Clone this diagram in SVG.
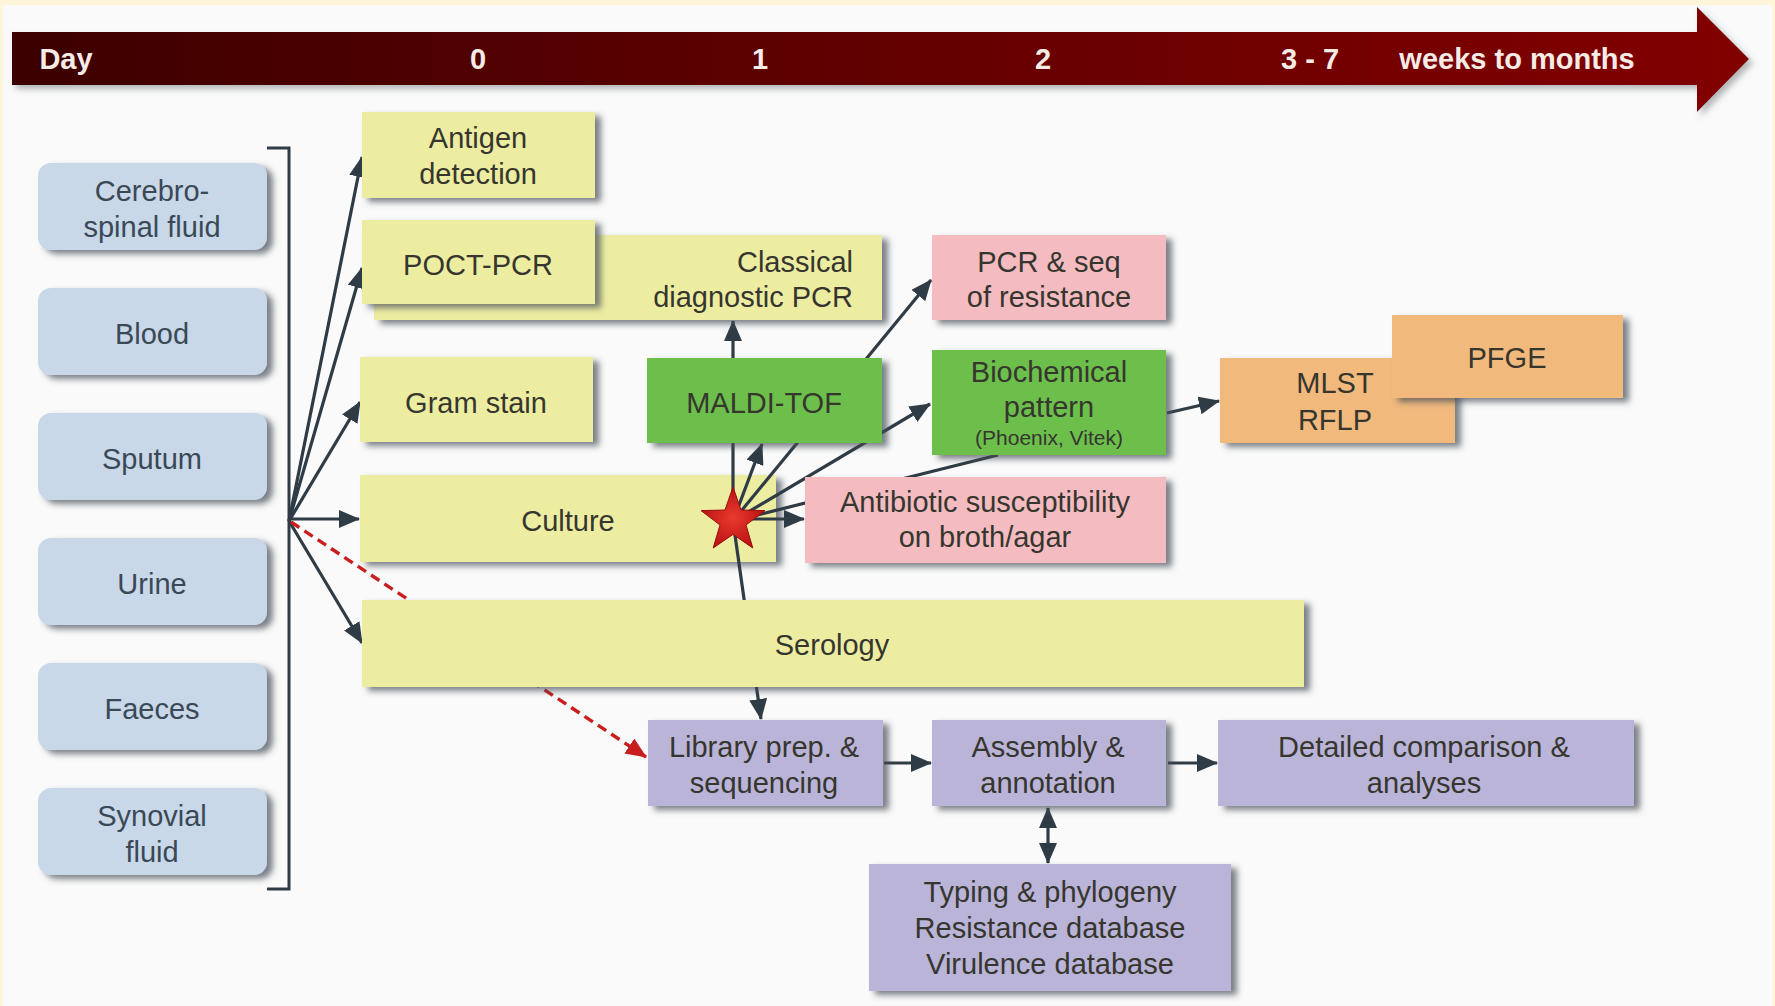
<svg xmlns="http://www.w3.org/2000/svg" width="1775" height="1006" viewBox="0 0 1775 1006">
  <style>
    .lbl { font-family: "Liberation Sans", Arial, sans-serif; font-size: 29px; fill: #36362f; text-anchor: middle; }
    .spec { fill: #3b4856; }
    .small { font-size: 21px; }
    .day { font-family: "Liberation Sans", Arial, sans-serif; font-size: 29px; font-weight: bold; fill: #f6ebe5; text-anchor: middle; }
    .blue { fill: #c8d8e8; }
    .yellow { fill: #ededa2; }
    .green { fill: #6cbf4c; }
    .pink { fill: #f4bcc0; }
    .orange { fill: #f2b97d; }
    .purple { fill: #bab4d8; }
    .box { filter: url(#shadow); }
    .link { stroke: #2f3b45; stroke-width: 3.2; fill: none; }
    .arrow { marker-end: url(#head); }
    .dash { stroke: #c81e1e; stroke-width: 3.4; stroke-dasharray: 10 6; fill: none; marker-end: url(#headRed); }
  </style>
  <defs>
    <filter id="shadow" x="-10%" y="-10%" width="125%" height="130%">
      <feDropShadow dx="6" dy="4" stdDeviation="3" flood-color="#434d57" flood-opacity="0.7"/>
    </filter>
    <filter id="barShadow" x="-5%" y="-20%" width="110%" height="150%">
      <feDropShadow dx="4" dy="4" stdDeviation="3" flood-color="#6a7078" flood-opacity="0.5"/>
    </filter>
    <linearGradient id="timeGrad" gradientUnits="userSpaceOnUse" x1="12" y1="0" x2="1749" y2="0">
      <stop offset="0" stop-color="#3c0001"/>
      <stop offset="0.5" stop-color="#620000"/>
      <stop offset="1" stop-color="#820000"/>
    </linearGradient>
    <radialGradient id="starGrad" cx="0.5" cy="0.5" r="0.55">
      <stop offset="0" stop-color="#e83a2e"/>
      <stop offset="1" stop-color="#b80f12"/>
    </radialGradient>
    <marker id="head" markerUnits="userSpaceOnUse" markerWidth="21" markerHeight="18" refX="20" refY="9" orient="auto">
      <path d="M0,0 L21,9 L0,18 Z" fill="#2f3b45"/>
    </marker>
    <marker id="headRed" markerUnits="userSpaceOnUse" markerWidth="21" markerHeight="18" refX="20" refY="9" orient="auto">
      <path d="M0,0 L21,9 L0,18 Z" fill="#c81e1e"/>
    </marker>
    <marker id="headStart" markerUnits="userSpaceOnUse" markerWidth="21" markerHeight="18" refX="1" refY="9" orient="auto">
      <path d="M21,0 L0,9 L21,18 Z" fill="#2f3b45"/>
    </marker>
  </defs>

  <!-- page -->
  <rect x="0" y="0" width="1775" height="1006" fill="#fff6d9"/>
  <rect x="3" y="5" width="1769" height="1001" fill="#fafafa"/>

  <!-- time axis -->
  <g id="timeline">
    <path d="M12,32 H1697 V7 L1749,59 L1697,112 V85 H12 Z" fill="url(#timeGrad)" filter="url(#barShadow)"/>
    <text class="day" x="66" y="69">Day</text>
    <text class="day" x="478" y="69">0</text>
    <text class="day" x="760" y="69">1</text>
    <text class="day" x="1043" y="69">2</text>
    <text class="day" x="1310" y="69">3 - 7</text>
    <text class="day" x="1517" y="69">weeks to months</text>
  </g>

  <!-- specimens -->
  <g id="csf"><rect class="blue box" x="38" y="163" width="229" height="87" rx="13"/><text class="lbl spec" x="152" y="201">Cerebro-</text><text class="lbl spec" x="152" y="237">spinal fluid</text></g>
  <g id="blood"><rect class="blue box" x="38" y="288" width="229" height="87" rx="13"/><text class="lbl spec" x="152" y="344">Blood</text></g>
  <g id="sputum"><rect class="blue box" x="38" y="413" width="229" height="87" rx="13"/><text class="lbl spec" x="152" y="469">Sputum</text></g>
  <g id="urine"><rect class="blue box" x="38" y="538" width="229" height="87" rx="13"/><text class="lbl spec" x="152" y="594">Urine</text></g>
  <g id="faeces"><rect class="blue box" x="38" y="663" width="229" height="87" rx="13"/><text class="lbl spec" x="152" y="719">Faeces</text></g>
  <g id="synovial"><rect class="blue box" x="38" y="788" width="229" height="87" rx="13"/><text class="lbl spec" x="152" y="826">Synovial</text><text class="lbl spec" x="152" y="862">fluid</text></g>

  <!-- bracket grouping the specimens -->
  <g id="bracket">
    <path d="M267,148 H289 V889 H267" fill="none" stroke="#2f3b45" stroke-width="3"/>
  </g>

  <g id="culture"><rect class="yellow box" x="360" y="475" width="416" height="87"/><text class="lbl" x="568" y="531">Culture</text></g>

  <!-- connectors -->
  <g id="connectors">
    <line class="link arrow" x1="289" y1="521" x2="362" y2="157"/>
    <line class="link arrow" x1="289" y1="521" x2="362" y2="268"/>
    <line class="link arrow" x1="289" y1="521" x2="360" y2="402"/>
    <line class="link arrow" x1="289" y1="519" x2="359" y2="519"/>
    <line class="link arrow" x1="289" y1="521" x2="362" y2="643"/>
    <line class="dash" x1="291" y1="522" x2="646" y2="757"/>

    <line class="link arrow" x1="733" y1="521" x2="733" y2="321"/>
    <line class="link arrow" x1="733" y1="521" x2="762" y2="444"/>
    <line class="link arrow" x1="733" y1="521" x2="931" y2="280"/>
    <line class="link arrow" x1="733" y1="521" x2="930" y2="404"/>
    <line class="link" x1="733" y1="521" x2="998" y2="455"/>
    <line class="link arrow" x1="733" y1="519" x2="804" y2="519"/>
    <line class="link arrow" x1="733" y1="521" x2="761" y2="719"/>

    <line class="link arrow" x1="1167" y1="413" x2="1219" y2="401"/>
    <line class="link arrow" x1="884" y1="763" x2="931" y2="763"/>
    <line class="link arrow" x1="1168" y1="763" x2="1217" y2="763"/>
    <line class="link arrow" x1="1048" y1="808" x2="1048" y2="863" marker-start="url(#headStart)"/>
  </g>

  <!-- first-line diagnostics -->
  <g id="antigen"><rect class="yellow box" x="362" y="112" width="233" height="86"/><text class="lbl" x="478" y="148">Antigen</text><text class="lbl" x="478" y="184">detection</text></g>
  <g id="classical-pcr"><rect class="yellow box" x="374" y="235" width="508" height="85"/><text class="lbl" x="853" y="272" style="text-anchor:end">Classical</text><text class="lbl" x="853" y="307" style="text-anchor:end">diagnostic PCR</text></g>
  <g id="poct-pcr"><rect class="yellow box" x="362" y="220" width="233" height="84"/><text class="lbl" x="478" y="275">POCT-PCR</text></g>
  <g id="gram"><rect class="yellow box" x="360" y="357" width="233" height="85"/><text class="lbl" x="476" y="413">Gram stain</text></g>
  <g id="serology"><rect class="yellow box" x="362" y="600" width="942" height="87"/><text class="lbl" x="832" y="655">Serology</text></g>

  <!-- identification -->
  <g id="maldi"><rect class="green box" x="647" y="358" width="235" height="85"/><text class="lbl" x="764" y="413">MALDI-TOF</text></g>
  <g id="biochemical"><rect class="green box" x="932" y="350" width="234" height="105"/><text class="lbl" x="1049" y="382">Biochemical</text><text class="lbl" x="1049" y="417">pattern</text><text class="lbl small" x="1049" y="445">(Phoenix, Vitek)</text></g>

  <!-- resistance -->
  <g id="pcr-seq"><rect class="pink box" x="932" y="235" width="234" height="85"/><text class="lbl" x="1049" y="272">PCR &amp; seq</text><text class="lbl" x="1049" y="307">of resistance</text></g>
  <g id="antibiotic"><rect class="pink box" x="805" y="477" width="361" height="86"/><text class="lbl" x="985" y="512">Antibiotic susceptibility</text><text class="lbl" x="985" y="547">on broth/agar</text></g>

  <!-- typing -->
  <g id="mlst"><rect class="orange box" x="1220" y="358" width="235" height="85"/><text class="lbl" x="1335" y="393">MLST</text><text class="lbl" x="1335" y="430">RFLP</text></g>
  <g id="pfge"><rect class="orange box" x="1392" y="315" width="231" height="83"/><text class="lbl" x="1507" y="368">PFGE</text></g>

  <!-- sequencing workflow -->
  <g id="library"><rect class="purple box" x="648" y="720" width="235" height="86"/><text class="lbl" x="764" y="757">Library prep. &amp;</text><text class="lbl" x="764" y="793">sequencing</text></g>
  <g id="assembly"><rect class="purple box" x="932" y="720" width="234" height="86"/><text class="lbl" x="1048" y="757">Assembly &amp;</text><text class="lbl" x="1048" y="793">annotation</text></g>
  <g id="detailed"><rect class="purple box" x="1218" y="720" width="416" height="86"/><text class="lbl" x="1424" y="757">Detailed comparison &amp;</text><text class="lbl" x="1424" y="793">analyses</text></g>
  <g id="typing"><rect class="purple box" x="869" y="864" width="362" height="127"/><text class="lbl" x="1050" y="902">Typing &amp; phylogeny</text><text class="lbl" x="1050" y="938">Resistance database</text><text class="lbl" x="1050" y="974">Virulence database</text></g>

  <!-- isolate marker on the culture -->
  <g id="isolate-star">
    <polygon points="733,487 741,510 765,510.6 746,525 752.8,548 733,534.4 713.2,548 720,525 701,510.6 725,510" fill="url(#starGrad)" stroke="#9a0c0c" stroke-width="1"/>
  </g>
</svg>
